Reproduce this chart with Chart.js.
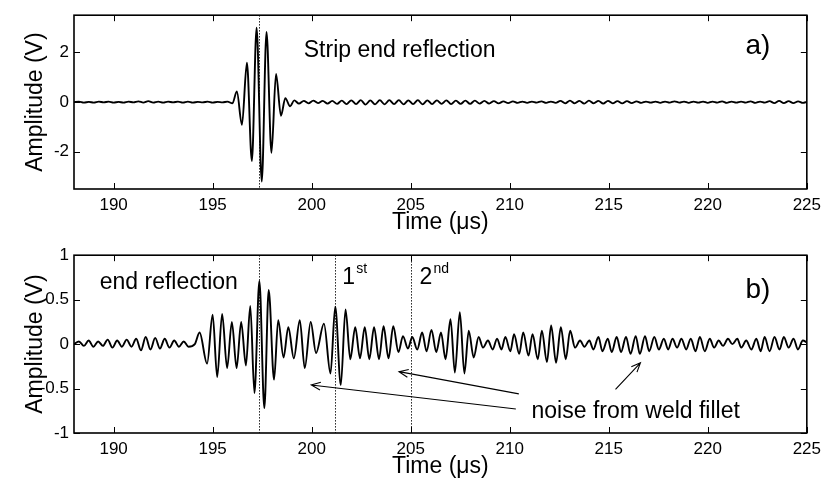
<!DOCTYPE html>
<html>
<head>
<meta charset="utf-8">
<script src="https://cdn.jsdelivr.net/npm/chart.js@4.4.0/dist/chart.umd.min.js"></script>
<style>
  body { margin: 0; background: #fff; }
  canvas { display: block; }
</style>
</head>
<body>
<canvas id="panelA" width="827" height="240"></canvas>
<canvas id="panelB" width="827" height="245"></canvas>
<script>
var FONT = '"Liberation Sans", Arial, sans-serif';

// axis ticks
var xTicks = [190, 195, 200, 205, 210, 215, 220, 225];
var yTicksA = [-2, 0, 2];
var yTicksB = [-1, -0.5, 0, 0.5, 1];

// a) strip end reflection, time (us) / amplitude (V)
var timesA = [
  188.00,188.25,188.50,188.75,189.00,189.25,189.50,189.75,
  190.00,190.25,190.50,190.75,191.00,191.25,191.50,191.75,
  192.00,192.25,192.50,192.75,193.00,193.25,193.50,193.75,
  194.00,194.25,194.50,194.75,195.00,195.25,195.50,195.75,
  196.00,196.22,196.48,196.73,196.98,197.22,197.48,197.72,
  197.97,198.20,198.45,198.67,198.91,199.12,199.36,199.60,
  199.84,200.08,200.32,200.56,200.80,201.04,201.28,201.52,
  201.76,202.00,202.24,202.48,202.72,202.96,203.20,203.44,
  203.68,203.92,204.16,204.40,204.64,204.88,205.12,205.36,
  205.60,205.84,206.08,206.32,206.56,206.80,207.04,207.28,
  207.52,207.76,208.00,208.24,208.48,208.72,208.96,209.20,
  209.44,209.68,209.92,210.16,210.40,210.64,210.88,211.12,
  211.36,211.60,211.84,212.08,212.32,212.56,212.80,213.04,
  213.28,213.52,213.76,214.00,214.24,214.48,214.72,214.96,
  215.20,215.44,215.68,215.92,216.16,216.40,216.64,216.88,
  217.12,217.36,217.60,217.84,218.08,218.32,218.56,218.80,
  219.04,219.28,219.52,219.76,220.00,220.24,220.48,220.72,
  220.96,221.20,221.44,221.68,221.92,222.16,222.40,222.64,
  222.88,223.12,223.36,223.60,223.84,224.08,224.32,224.56,
  224.80,225.00
];
var ampA = [
  0.00,0.02,-0.02,0.01,-0.02,0.02,-0.01,0.02,
  -0.02,0.01,-0.02,0.02,-0.01,0.03,-0.02,0.04,
  -0.02,0.02,-0.02,0.02,-0.01,0.02,-0.02,0.02,
  -0.02,0.01,-0.01,0.02,-0.02,0.01,-0.01,0.02,
  -0.05,0.43,-0.91,1.59,-2.37,3.00,-3.20,2.83,
  -2.04,1.13,-0.55,0.16,-0.17,0.07,-0.06,0.05,
  -0.05,0.06,-0.04,0.05,-0.06,0.05,-0.07,0.06,
  -0.08,0.07,-0.08,0.08,-0.10,0.07,-0.09,0.08,
  -0.09,0.08,-0.08,0.08,-0.09,0.07,-0.08,0.08,
  -0.09,0.07,-0.08,0.07,-0.07,0.07,-0.08,0.06,
  -0.07,0.06,-0.07,0.06,-0.06,0.05,-0.06,0.04,
  -0.05,0.03,-0.04,0.03,-0.03,0.02,-0.03,0.02,
  -0.02,0.03,-0.03,0.02,-0.03,0.05,-0.05,0.06,
  -0.05,0.05,-0.06,0.06,-0.05,0.05,-0.06,0.05,
  -0.05,0.04,-0.05,0.04,-0.04,0.03,-0.03,0.02,
  -0.02,0.02,-0.03,0.02,-0.02,0.03,-0.02,0.02,
  -0.03,0.02,-0.02,0.02,-0.03,0.02,-0.02,0.03,
  -0.03,0.02,-0.02,0.02,-0.02,0.03,-0.03,0.02,
  -0.02,0.04,-0.04,0.05,-0.04,0.04,-0.04,0.03,
  -0.03,0.01
];

// b) welded strip, time (us) / amplitude (V)
var timesB = [
  188.00,188.25,188.50,188.74,188.98,189.22,189.46,189.70,
  189.94,190.18,190.42,190.66,190.90,191.14,191.38,191.62,
  191.86,192.10,192.34,192.58,192.82,193.06,193.30,193.54,
  193.78,194.10,194.34,194.72,195.00,195.23,195.48,195.73,
  195.97,196.21,196.44,196.68,196.90,197.11,197.36,197.61,
  197.83,198.10,198.31,198.58,198.82,199.10,199.40,199.65,
  199.95,200.22,200.62,200.95,201.19,201.47,201.71,201.95,
  202.20,202.44,202.68,202.91,203.15,203.40,203.63,203.88,
  204.12,204.38,204.61,204.86,205.08,205.33,205.58,205.80,
  206.05,206.29,206.53,206.76,207.01,207.23,207.48,207.71,
  207.93,208.18,208.43,208.65,208.90,209.14,209.36,209.58,
  209.78,210.03,210.22,210.48,210.68,210.95,211.15,211.42,
  211.62,211.88,212.09,212.34,212.58,212.83,213.05,213.30,
  213.55,213.77,214.02,214.22,214.48,214.68,214.95,215.15,
  215.40,215.62,215.87,216.10,216.36,216.57,216.83,217.04,
  217.30,217.53,217.78,218.00,218.22,218.45,218.67,218.91,
  219.14,219.38,219.60,219.85,220.10,220.32,220.55,220.77,
  221.02,221.24,221.49,221.69,221.94,222.20,222.45,222.67,
  222.87,223.12,223.37,223.62,223.84,224.08,224.33,224.55,
  224.80,225.00
];
var ampB = [
  0.00,0.03,-0.02,0.04,-0.03,0.03,-0.02,0.05,
  -0.04,0.04,-0.03,0.05,-0.03,0.06,-0.07,0.08,
  -0.06,0.07,-0.05,0.06,-0.04,0.04,-0.03,0.03,
  -0.03,0.00,0.13,-0.22,0.33,-0.37,0.34,-0.27,
  0.25,-0.27,0.25,-0.24,0.43,-0.55,0.71,-0.72,
  0.61,-0.40,0.27,-0.15,0.19,-0.16,0.27,-0.27,
  0.25,-0.10,0.23,-0.33,0.42,-0.46,0.39,-0.17,
  0.19,-0.16,0.19,-0.17,0.19,-0.17,0.20,-0.16,
  0.20,-0.09,0.09,-0.05,0.08,-0.06,0.13,-0.08,
  0.16,-0.09,0.13,-0.17,0.28,-0.32,0.36,-0.33,
  0.15,-0.15,0.08,-0.04,0.04,-0.06,0.06,-0.06,
  0.08,-0.08,0.11,-0.11,0.13,-0.13,0.11,-0.17,
  0.15,-0.20,0.21,-0.21,0.19,-0.17,0.15,-0.04,
  0.04,-0.03,0.04,-0.06,0.08,-0.08,0.06,-0.09,
  0.08,-0.09,0.08,-0.11,0.09,-0.11,0.09,-0.08,
  0.08,-0.06,0.06,-0.06,0.06,-0.04,0.06,-0.06,
  0.06,-0.08,0.08,-0.08,0.06,-0.04,0.04,-0.02,
  0.06,0.00,0.06,-0.04,0.04,-0.06,0.06,-0.08,
  0.08,-0.08,0.08,-0.06,0.08,-0.04,0.06,-0.06,
  0.04,0.02
];

// dotted markers (us)
var echoA = [197.33];
var echoB = [197.33, 201.2, 205.0];

// labels placed in data units
var notesA = [
  { text: 'Strip end reflection', t: 199.6, v: 2.08, size: 23 },
  { text: 'a)', t: 221.9, v: 2.24, size: 28 }
];
var notesB = [
  { text: 'end reflection', t: 189.3, v: 0.69, size: 23 },
  { text: '1', sup: 'st', t: 201.55, v: 0.75, size: 23 },
  { text: '2', sup: 'nd', t: 205.45, v: 0.75, size: 23 },
  { text: 'b)', t: 221.9, v: 0.61, size: 28 },
  { text: 'noise from weld fillet', t: 211.1, v: -0.76, size: 23 }
];
// arrows: tail t, tail v, tip t, tip v
var arrowsB = [
  [210.46, -0.56, 204.41, -0.31],
  [210.31, -0.73, 199.98, -0.46],
  [215.34, -0.51, 216.60, -0.21]
];

var panels = {
  panelA: { echoes: echoA, yTicks: yTicksA, notes: notesA, arrows: [] },
  panelB: { echoes: echoB, yTicks: yTicksB, notes: notesB, arrows: arrowsB }
};

var framePlugin = {
  id: 'frame',
  afterDatasetsDraw: function(chart) {
    var p = panels[chart.canvas.id];
    var ctx = chart.ctx, a = chart.chartArea;
    var xs = chart.scales.x, ys = chart.scales.y;
    ctx.save();
    ctx.strokeStyle = '#000';
    ctx.fillStyle = '#000';

    // dotted time markers
    ctx.lineWidth = 1;
    ctx.setLineDash([1.3, 1.7]);
    p.echoes.forEach(function(t) {
      var px = Math.round(xs.getPixelForValue(t)) + 0.5;
      ctx.beginPath();
      ctx.moveTo(px, a.top);
      ctx.lineTo(px, a.bottom);
      ctx.stroke();
    });
    ctx.setLineDash([]);

    // box and inward ticks
    ctx.lineWidth = 1.6;
    ctx.strokeRect(a.left, a.top, a.right - a.left, a.bottom - a.top);
    ctx.lineWidth = 1;
    ctx.beginPath();
    xTicks.forEach(function(t) {
      var px = Math.round(xs.getPixelForValue(t)) + 0.5;
      ctx.moveTo(px, a.bottom); ctx.lineTo(px, a.bottom - 6);
      ctx.moveTo(px, a.top); ctx.lineTo(px, a.top + 6);
    });
    p.yTicks.forEach(function(v) {
      var py = Math.round(ys.getPixelForValue(v)) + 0.5;
      ctx.moveTo(a.left, py); ctx.lineTo(a.left + 6, py);
      ctx.moveTo(a.right, py); ctx.lineTo(a.right - 6, py);
    });
    ctx.stroke();

    // annotations
    ctx.textAlign = 'left';
    ctx.textBaseline = 'middle';
    p.notes.forEach(function(n) {
      var px = xs.getPixelForValue(n.t), py = ys.getPixelForValue(n.v);
      ctx.font = n.size + 'px ' + FONT;
      ctx.fillText(n.text, px, py);
      if (n.sup) {
        var w = ctx.measureText(n.text).width;
        ctx.font = Math.round(n.size * 0.62) + 'px ' + FONT;
        ctx.fillText(n.sup, px + w + 1, py - n.size * 0.36);
      }
    });

    ctx.lineWidth = 1.1;
    p.arrows.forEach(function(r) {
      var x0 = xs.getPixelForValue(r[0]), y0 = ys.getPixelForValue(r[1]);
      var x1 = xs.getPixelForValue(r[2]), y1 = ys.getPixelForValue(r[3]);
      var ang = Math.atan2(y1 - y0, x1 - x0);
      ctx.beginPath();
      ctx.moveTo(x0, y0); ctx.lineTo(x1, y1);
      ctx.moveTo(x1 - 10 * Math.cos(ang - 0.4), y1 - 10 * Math.sin(ang - 0.4));
      ctx.lineTo(x1, y1);
      ctx.lineTo(x1 - 10 * Math.cos(ang + 0.4), y1 - 10 * Math.sin(ang + 0.4));
      ctx.stroke();
    });

    // axis titles
    ctx.font = '23px ' + FONT;
    ctx.textAlign = 'center';
    ctx.fillText('Time (\u03bcs)', (a.left + a.right) / 2, a.bottom + 34);
    ctx.translate(36, (a.top + a.bottom) / 2);
    ctx.rotate(-Math.PI / 2);
    ctx.fillText('Amplitude (V)', 0, 0);
    ctx.restore();
  }
};

function makePanel(id, times, amps, yMin, yMax, yTicks, padTop, xHeight) {
  var points = times.map(function(t, i) { return { x: t, y: amps[i] }; });
  return new Chart(document.getElementById(id), {
    type: 'line',
    data: {
      datasets: [{
        data: points,
        borderColor: '#000',
        borderWidth: 1.9,
        pointRadius: 0,
        cubicInterpolationMode: 'monotone',
        fill: false
      }]
    },
    options: {
      responsive: false,
      animation: false,
      events: [],
      layout: { padding: { top: padTop, right: 18, left: 0, bottom: 0 } },
      plugins: { legend: { display: false }, tooltip: { enabled: false } },
      scales: {
        x: {
          type: 'linear', min: 188, max: 225,
          afterBuildTicks: function(s) { s.ticks = xTicks.map(function(v) { return { value: v }; }); },
          afterFit: function(s) { s.height = xHeight; },
          grid: { display: false, drawTicks: false },
          border: { display: false },
          ticks: { color: '#000', font: { family: FONT, size: 17 }, padding: 6, maxRotation: 0,
                   callback: function(v) { return String(v); } }
        },
        y: {
          type: 'linear', min: yMin, max: yMax,
          afterBuildTicks: function(s) { s.ticks = yTicks.map(function(v) { return { value: v }; }); },
          afterFit: function(s) { s.width = 74; },
          grid: { display: false, drawTicks: false },
          border: { display: false },
          ticks: { color: '#000', font: { family: FONT, size: 17 }, padding: 5,
                   callback: function(v) { return String(v); } }
        }
      }
    },
    plugins: [framePlugin]
  });
}

makePanel('panelA', timesA, ampA, -3.5, 3.5, yTicksA, 11, 51);
makePanel('panelB', timesB, ampB, -1, 1, yTicksB, 15, 52);
</script>
</body>
</html>
